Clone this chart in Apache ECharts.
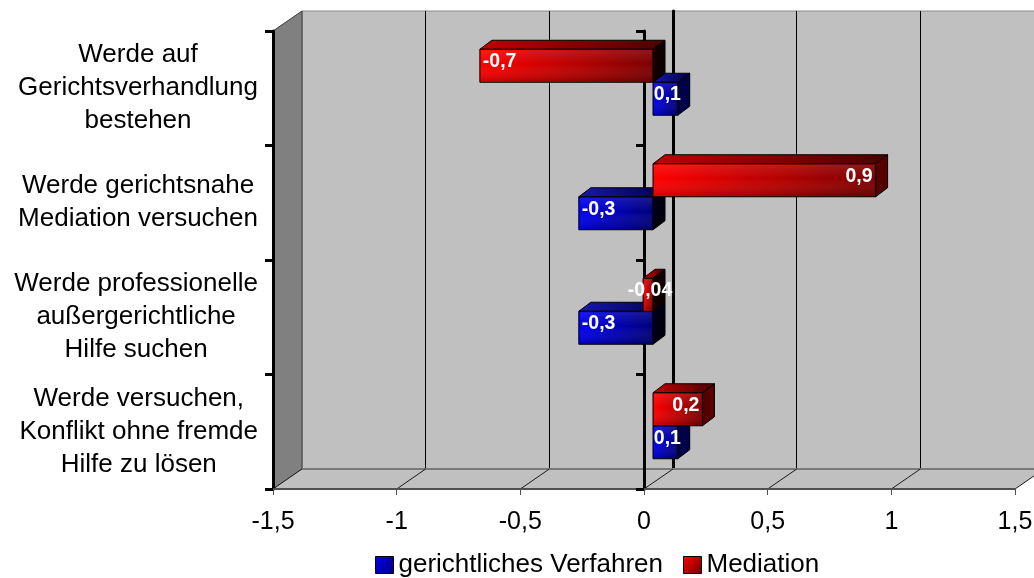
<!DOCTYPE html>
<html>
<head>
<meta charset="utf-8">
<script src="https://cdn.jsdelivr.net/npm/echarts@6/dist/echarts.min.js"></script>
<style>
  html, body { margin: 0; padding: 0; background: #fff; }
  #chart { width: 1034px; height: 578px; }
</style>
</head>
<body>
<div id="chart"></div>
<script>
// ---- data ----
const categories = [
  'Werde auf\nGerichtsverhandlung\nbestehen',
  'Werde gerichtsnahe\nMediation versuchen',
  'Werde professionelle\naußergerichtliche\nHilfe suchen',
  'Werde versuchen,\nKonflikt ohne fremde\nHilfe zu lösen'
];
const seriesNames = ['gerichtliches Verfahren', 'Mediation'];
const gerichtlich = [0.1, -0.3, -0.3, 0.1];
const mediation = [-0.7, 0.9, -0.04, 0.2];
const xTicks = [-1.5, -1, -0.5, 0, 0.5, 1, 1.5];

// ---- layout of the pseudo-3D box ----
const FONT = "'Liberation Sans', Arial, sans-serif";
const FRONT = { left: 273, top: 31, width: 742, height: 458 };
const WALL_DEPTH = [29, -20];   // front plane -> back wall
const BAR_SHIFT = [9, -6];      // front plane -> front face of the bars
const BAR_DEPTH = [12, -9];     // thickness of each bar box
const BAR_H = 33;
const LABEL_FONT = "bold 19.5px 'Liberation Sans', Arial, sans-serif";

const fmt = v => String(v).replace('.', ',');

const measureCtx = document.createElement('canvas').getContext('2d');
function textWidth(t, font) { measureCtx.font = font; return measureCtx.measureText(t).width; }

function hGrad(c0, c1) {
  return { type: 'linear', x: 0, y: 0, x2: 1, y2: 0, colorStops: [{ offset: 0, color: c0 }, { offset: 1, color: c1 }] };
}

const palette = {
  blue: { front: ['#0000F2', '#000078'], top: ['#1818B0', '#00004A'], sidePos: '#00004a', sideNeg: '#000010' },
  red:  { front: ['#FF0000', '#7C0000'], top: ['#C00000', '#4A0000'], sidePos: '#560000', sideNeg: '#100000' }
};

// one 3D box per data item: top face, right end face, front face, value label
function makeBarRenderer(colors, above) {
  return function (params, api) {
    const v = api.value(0);
    const cat = api.value(1);
    const p0 = api.coord([0, cat]);
    const p1 = api.coord([v, cat]);
    const yTop = above ? p0[1] - BAR_H : p0[1];
    const left = Math.min(p0[0], p1[0]);
    const right = Math.max(p0[0], p1[0]);
    const dx = BAR_DEPTH[0], dy = BAR_DEPTH[1];
    const children = [
      { type: 'polygon',
        shape: { points: [[left, yTop], [right, yTop], [right + dx, yTop + dy], [left + dx, yTop + dy]] },
        style: { fill: hGrad(colors.top[0], colors.top[1]), stroke: '#000', lineWidth: 1 } },
      { type: 'polygon',
        shape: { points: [[right, yTop], [right + dx, yTop + dy], [right + dx, yTop + BAR_H + dy], [right, yTop + BAR_H]] },
        style: { fill: v >= 0 ? colors.sidePos : colors.sideNeg, stroke: '#000', lineWidth: 1 } },
      { type: 'rect',
        shape: { x: left, y: yTop, width: right - left, height: BAR_H },
        style: { fill: hGrad(colors.front[0], colors.front[1]), stroke: '#000', lineWidth: 1 } },
      { type: 'rect',
        shape: { x: left + 1, y: yTop + 1, width: Math.max(0, right - left - 2), height: BAR_H - 2 },
        style: { fill: { type: 'linear', x: 0, y: 0, x2: 0, y2: 1, colorStops: [
          { offset: 0, color: 'rgba(255,255,255,0.10)' },
          { offset: 0.45, color: 'rgba(255,255,255,0)' },
          { offset: 1, color: 'rgba(0,0,0,0.18)' } ] } } }
    ];
    const txt = fmt(v);
    const w = textWidth(txt, LABEL_FONT);
    let tx, align;
    if (w + 6 > right - left) { tx = (left + right) / 2 + 2; align = 'center'; }
    else if (v >= 0) { tx = right - 3; align = 'right'; }
    else { tx = left + 3; align = 'left'; }
    children.push({
      type: 'text', z2: 10,
      style: { text: txt, x: tx, y: yTop + BAR_H / 2 + dy / 2 + 0.5, fill: '#fff', font: LABEL_FONT, align: align, verticalAlign: 'middle' }
    });
    return { type: 'group', children: children };
  };
}

// left wall, floor and the floor lines running back from every tick
function renderFrame(params, api) {
  const cs = params.coordSys;
  const x = api.coord([api.value(0), 0])[0];
  const yb = cs.y + cs.height;
  const dx = WALL_DEPTH[0], dy = WALL_DEPTH[1];
  const children = [];
  if (params.dataIndex === 0) {
    children.push({
      type: 'polygon',
      shape: { points: [[cs.x, cs.y], [cs.x + dx, cs.y + dy], [cs.x + dx, yb + dy], [cs.x, yb]] },
      style: { fill: '#808080', stroke: '#3a3a3a', lineWidth: 1 }
    });
    children.push({
      type: 'polygon',
      shape: { points: [[cs.x, yb], [cs.x + cs.width, yb], [cs.x + cs.width + dx, yb + dy], [cs.x + dx, yb + dy]] },
      style: { fill: '#C0C0C0' }
    });
    children.push({
      type: 'line',
      shape: { x1: cs.x + dx, y1: yb + dy, x2: cs.x + cs.width + dx, y2: yb + dy },
      style: { stroke: '#7a7a7a', lineWidth: 2 }
    });
  }
  children.push({
    type: 'line',
    shape: { x1: x, y1: yb, x2: x + dx, y2: yb + dy },
    style: { stroke: '#1a1a1a', lineWidth: 1 }
  });
  return { type: 'group', children: children };
}

const valueAxisBase = { type: 'value', min: -1.5, max: 1.5, interval: 0.5 };
const catAxisBase = { type: 'category', data: categories, inverse: true };

const option = {
  backgroundColor: '#ffffff',
  animation: false,
  grid: [
    { // back wall
      left: FRONT.left + WALL_DEPTH[0], top: FRONT.top + WALL_DEPTH[1], width: FRONT.width, height: FRONT.height,
      show: true, backgroundColor: '#C0C0C0', borderColor: '#8a8a8a', borderWidth: 1, outerBoundsMode: 'none'
    },
    { // front plane
      left: FRONT.left, top: FRONT.top, width: FRONT.width, height: FRONT.height, outerBoundsMode: 'none'
    },
    { // bar plane
      left: FRONT.left + BAR_SHIFT[0], top: FRONT.top + BAR_SHIFT[1], width: FRONT.width, height: FRONT.height, outerBoundsMode: 'none'
    }
  ],
  xAxis: [
    Object.assign({}, valueAxisBase, {
      gridIndex: 0,
      axisLine: { show: false }, axisTick: { show: false }, axisLabel: { show: false },
      splitLine: { show: true, showMinLine: false, lineStyle: { color: '#000', width: 1 } }
    }),
    Object.assign({}, valueAxisBase, {
      gridIndex: 1, z: 3,
      axisLine: { show: true, onZero: false, lineStyle: { color: '#505050', width: 2 } },
      axisTick: { show: true, length: 6, lineStyle: { color: '#505050', width: 1 } },
      axisLabel: {
        show: true, margin: 21, fontSize: 25, fontFamily: FONT, color: '#000',
        formatter: fmt, showMaxLabel: true, showMinLabel: true
      },
      splitLine: { show: false }
    }),
    Object.assign({}, valueAxisBase, {
      gridIndex: 2, show: false, splitLine: { show: false }
    })
  ],
  yAxis: [
    Object.assign({}, catAxisBase, {
      gridIndex: 0,
      axisLine: { show: true, onZero: true, lineStyle: { color: '#000', width: 3 } },
      axisTick: { show: false }, axisLabel: { show: false }, splitLine: { show: false }
    }),
    Object.assign({}, catAxisBase, {
      gridIndex: 1, position: 'left', z: 3,
      axisLine: { show: true, onZero: true, lineStyle: { color: '#000', width: 3 } },
      axisTick: { show: true, length: 8, lineStyle: { color: '#000', width: 3 } },
      axisLabel: { show: false }, splitLine: { show: false }
    }),
    Object.assign({}, catAxisBase, {
      gridIndex: 1, position: 'left', z: 3,
      axisLine: { show: true, onZero: false, lineStyle: { color: '#000', width: 3 } },
      axisTick: { show: true, length: 8, lineStyle: { color: '#000', width: 3 } },
      axisLabel: {
        show: true, interval: 0, margin: 15, align: 'right',
        formatter: val => val.split('\n').map(l => '{c|' + l + '}').join('\n'),
        rich: { c: { align: 'center', fontSize: 26, lineHeight: 33, fontFamily: FONT, color: '#000' } }
      },
      splitLine: { show: false }
    }),
    Object.assign({}, catAxisBase, {
      gridIndex: 2, show: false
    })
  ],
  legend: {
    top: 547, left: 370,
    itemWidth: 18, itemHeight: 17, itemGap: 20,
    selectedMode: false,
    textStyle: { fontSize: 26, fontFamily: FONT, color: '#000' },
    data: [
      { name: seriesNames[0], icon: 'rect',
        itemStyle: { color: { type: 'linear', x: 0, y: 0, x2: 1, y2: 1, colorStops: [{ offset: 0, color: '#0000FF' }, { offset: 1, color: '#000070' }] }, borderColor: '#000', borderWidth: 1 } },
      { name: seriesNames[1], icon: 'rect',
        itemStyle: { color: { type: 'linear', x: 0, y: 0, x2: 1, y2: 1, colorStops: [{ offset: 0, color: '#FF0000' }, { offset: 1, color: '#700000' }] }, borderColor: '#000', borderWidth: 1 } }
    ]
  },
  series: [
    {
      type: 'custom', name: 'frame', silent: true, z: 1,
      xAxisIndex: 1, yAxisIndex: 2,
      renderItem: renderFrame,
      data: xTicks.map(v => [v, 0])
    },
    {
      type: 'custom', name: seriesNames[0], z: 5,
      xAxisIndex: 2, yAxisIndex: 3,
      itemStyle: { color: '#0000C0' },
      encode: { x: 0, y: 1 },
      renderItem: makeBarRenderer(palette.blue, false),
      data: gerichtlich.map((v, i) => [v, i])
    },
    {
      type: 'custom', name: seriesNames[1], z: 5,
      xAxisIndex: 2, yAxisIndex: 3,
      itemStyle: { color: '#C00000' },
      encode: { x: 0, y: 1 },
      renderItem: makeBarRenderer(palette.red, true),
      data: mediation.map((v, i) => [v, i])
    }
  ]
};

const chart = echarts.init(document.getElementById('chart'), null, { renderer: 'canvas' });
chart.setOption(option);
</script>
</body>
</html>
